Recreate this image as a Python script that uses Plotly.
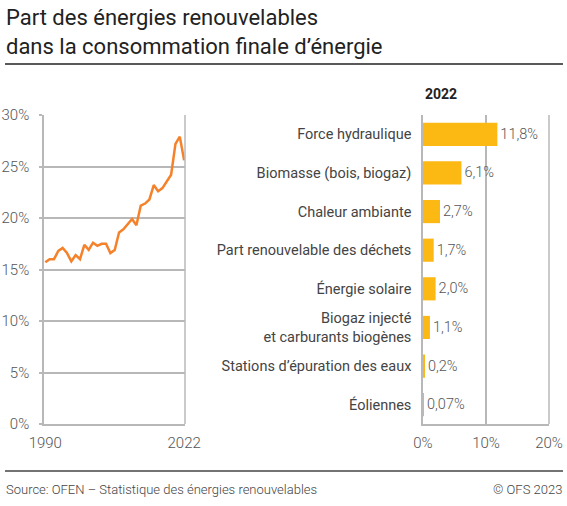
import plotly.graph_objects as go

# ---- data ----
years = list(range(1990, 2023))
share_renewable = [15.7, 16.0, 16.0, 16.8, 17.1, 16.6, 15.8, 16.4, 16.0, 17.4,
                   16.9, 17.6, 17.3, 17.5, 17.5, 16.6, 16.9, 18.6, 18.9, 19.4,
                   19.9, 19.3, 21.2, 21.4, 21.8, 23.2, 22.6, 22.9, 23.6, 24.2,
                   27.2, 27.9, 25.6]

categories = ["Force hydraulique", "Biomasse (bois, biogaz)", "Chaleur ambiante",
              "Part renouvelable des déchets", "Énergie solaire",
              "Biogaz injecté<br>et carburants biogènes",
              "Stations d’épuration des eaux", "Éoliennes"]
values_2022 = [11.8, 6.1, 2.7, 1.7, 2.0, 1.1, 0.2, 0.07]
value_labels = ["11,8%", "6,1%", "2,7%", "1,7%", "2,0%", "1,1%", "0,2%", "0,07%"]

line_y_ticks = [0, 5, 10, 15, 20, 25, 30]
line_y_ticktext = ["0%", "5%", "10%", "15%", "20%", "25%", "30%"]
bar_x_ticks = [0, 10, 20]
bar_x_ticktext = ["0%", "10%", "20%"]

W, H = 567, 506
FONT = "Roboto"
TICK_FONT = dict(family=FONT, size=15, color="#555555", weight=300)
GRID = "#b8b8b8"

fig = go.Figure()

fig.add_trace(go.Scatter(
    x=years, y=share_renewable, mode="lines",
    line=dict(color="#f5822a", width=2.5),
    xaxis="x", yaxis="y", showlegend=False, hoverinfo="x+y"))

fig.add_trace(go.Bar(
    x=values_2022, y=categories, orientation="h",
    marker=dict(color="#fdb913", line=dict(width=0)),
    width=0.6,
    text=value_labels, textposition="outside", cliponaxis=False,
    textfont=dict(family=FONT, size=14.5, color="#555555", weight=300),
    xaxis="x2", yaxis="y2", showlegend=False))

y_bottom = 1 - 424 / H
y_top = 1 - 115 / H

fig.update_layout(
    width=W, height=H, autosize=False,
    margin=dict(l=0, r=0, t=0, b=0, pad=0, autoexpand=False),
    paper_bgcolor="white", plot_bgcolor="white",
    font=dict(family=FONT, color="#333333"),
    bargap=0.4,
    xaxis=dict(domain=[44 / W, 185 / W], range=[1989.7, 2022.2],
               tickvals=[1990, 2022], ticktext=["1990", "2022"],
               showgrid=False, zeroline=False, automargin=False,
               showline=True, linecolor=GRID, linewidth=1.5, mirror=False,
               ticks="", tickfont=TICK_FONT, ticklabelstandoff=4),
    yaxis=dict(domain=[y_bottom, y_top], range=[0, 30],
               tickvals=line_y_ticks, ticktext=line_y_ticktext,
               showgrid=True, gridcolor=GRID, gridwidth=1.5, zeroline=False,
               showline=True, linecolor=GRID, linewidth=1.5, automargin=False,
               ticks="outside", ticklen=3, tickwidth=1.5, tickcolor=GRID,
               tickfont=TICK_FONT, ticklabelstandoff=7),
    xaxis2=dict(domain=[423 / W, 549 / W], range=[0, 20], anchor="y2",
                tickvals=bar_x_ticks, ticktext=bar_x_ticktext,
                showgrid=True, gridcolor=GRID, gridwidth=1.5, zeroline=False,
                showline=True, linecolor=GRID, linewidth=1.5, automargin=False,
                ticks="", tickfont=TICK_FONT, ticklabelstandoff=4),
    yaxis2=dict(domain=[y_bottom, y_top], anchor="x2", autorange="reversed",
                showgrid=False, zeroline=False, automargin=False,
                showline=True, linecolor=GRID, linewidth=1.5,
                ticks="", ticklabelstandoff=7,
                tickfont=dict(family=FONT, size=14.5, color="#444444")),
)

# right border of line chart and bar chart
fig.add_shape(type="line", xref="x domain", yref="y domain", x0=1, x1=1, y0=0, y1=1,
              line=dict(color=GRID, width=1.5))
fig.add_shape(type="line", xref="x2 domain", yref="y2 domain", x0=1, x1=1, y0=0, y1=1,
              line=dict(color=GRID, width=1.5))

# rules
fig.add_shape(type="line", xref="paper", yref="paper", x0=5 / W, x1=563 / W,
              y0=1 - 64 / H, y1=1 - 64 / H, line=dict(color="#222222", width=1.5))
fig.add_shape(type="line", xref="paper", yref="paper", x0=5 / W, x1=563 / W,
              y0=1 - 471 / H, y1=1 - 471 / H, line=dict(color="#444444", width=1.5))

# title
fig.add_annotation(text="Part des énergies renouvelables<br>dans la consommation finale d’énergie",
                   xref="paper", yref="paper", x=4 / W, y=1 - 3 / H,
                   xanchor="left", yanchor="top", showarrow=False, align="left",
                   font=dict(family=FONT, size=22, color="#222222"))
# subtitle for bar chart
fig.add_annotation(text="<b>2022</b>", xref="paper", yref="paper", x=423 / W, y=1 - 94 / H,
                   xanchor="left", yanchor="middle", showarrow=False,
                   font=dict(family=FONT, size=14, color="#222222"))
# footer
fig.add_annotation(text="Source: OFEN – Statistique des énergies renouvelables",
                   xref="paper", yref="paper", x=4 / W, y=1 - 489 / H,
                   xanchor="left", yanchor="middle", showarrow=False,
                   font=dict(family=FONT, size=13, color="#444444", weight=300))
fig.add_annotation(text="© OFS 2023",
                   xref="paper", yref="paper", x=564 / W, y=1 - 489 / H,
                   xanchor="right", yanchor="middle", showarrow=False,
                   font=dict(family=FONT, size=13, color="#444444", weight=300))

fig.write_html("out.html", config={"displayModeBar": False},
               post_script="document.body.style.margin='0';document.body.style.overflow='hidden';")
